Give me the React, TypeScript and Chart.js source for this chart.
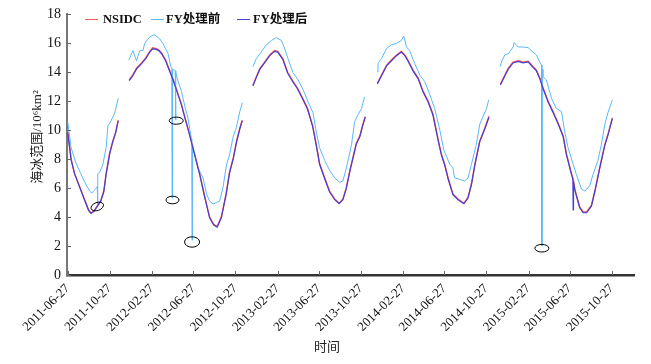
import React, { useEffect, useRef } from "react";
import { Chart, registerables } from "chart.js";
Chart.register(...registerables);

// ---------- data ----------
const START_DATE = "2011-06-27";
const tickDates = [
  "2011-06-27", "2011-10-27", "2012-02-27", "2012-06-27", "2012-10-27",
  "2013-02-27", "2013-06-27", "2013-10-27", "2014-02-27", "2014-06-27",
  "2014-10-27", "2015-02-27", "2015-06-27", "2015-10-27",
];
const yTickValues = [0, 2, 4, 6, 8, 10, 12, 14, 16, 18];

const seriesLabels = ["NSIDC", "FY处理前", "FY处理后"];

// day offsets from START_DATE (null value = data gap)
const darkDays = [
  0, 10, 20, 35, 49, 61, 68, 76, 84, 96, 105, 112, 122, 131, 140, 147,
  163,
  179, 189, 201, 215, 227, 239, 247, 256, 265, 274, 285, 297, 307, 317, 331, 341, 355, 370, 384, 399,
  413, 425, 435, 447, 461, 471, 482, 492, 501, 508,
  523,
  539, 549, 559, 573, 588, 602, 611, 626, 640, 655, 669, 684, 698, 713, 725, 733, 748, 762, 777, 790,
  801, 811, 821, 830, 840, 850, 859, 866,
  883,
  901, 913, 928, 942, 957, 971, 981, 990, 1005, 1020, 1034, 1049, 1063, 1078, 1088, 1097, 1107, 1121,
  1136, 1153, 1165, 1175, 1185, 1199, 1214, 1226,
  1242,
  1259, 1272, 1282, 1296, 1311, 1325, 1340, 1354, 1364, 1374, 1383, 1398, 1412, 1427, 1442, 1451,
  1466, 1470, 1471, 1472, 1476, 1490, 1500, 1510, 1524, 1534, 1548, 1563, 1572, 1585,
];
const nsidcValues = [
  9.9, 8.0, 7.0, 6.1, 5.2, 4.5, 4.28, 4.4, 4.7, 5.1, 5.8, 7.0, 8.4, 9.2, 9.9, 10.7,
  null,
  13.47, 13.8, 14.3, 14.65, 15.0, 15.45, 15.7, 15.65, 15.55, 15.3, 14.85, 14.1, 13.5, 12.8, 11.8, 10.9, 9.7, 8.3, 7.0, 5.4,
  4.0, 3.5, 3.35, 4.0, 5.6, 7.1, 8.1, 9.3, 10.15, 10.7,
  null,
  13.1, 13.7, 14.25, 14.7, 15.2, 15.5, 15.45, 14.95, 14.0, 13.4, 12.9, 12.2, 11.5, 10.3, 8.8, 7.7, 6.7, 5.8, 5.25, 4.95,
  5.25, 6.05, 7.2, 8.1, 9.1, 9.6, 10.4, 10.95,
  null,
  13.24, 13.8, 14.5, 14.85, 15.2, 15.45, 15.2, 14.85, 14.15, 13.6, 12.7, 12.0, 11.1, 9.35, 8.3, 7.65, 6.7, 5.6,
  5.25, 4.95, 5.37, 6.3, 7.65, 9.25, 10.16, 10.96,
  null,
  13.17, 13.8, 14.27, 14.7, 14.8, 14.7, 14.77, 14.4, 14.15, 13.6, 12.95, 12.0, 11.3, 10.5, 9.6, 8.4,
  7.0, 6.7, 6.6, 6.5, 5.9, 4.7, 4.35, 4.35, 4.8, 5.8, 7.4, 9.0, 9.7, 10.85,
];
const fyAfterValues = [
  9.85, 7.95, 7.0, 6.05, 5.2, 4.45, 4.25, 4.4, 4.65, 5.1, 5.75, 7.0, 8.35, 9.2, 9.85, 10.65,
  null,
  13.42, 13.75, 14.25, 14.6, 14.95, 15.4, 15.62, 15.6, 15.5, 15.25, 14.8, 14.05, 13.45, 12.75, 11.75, 10.85, 9.65, 8.25, 6.95, 5.35,
  3.95, 3.45, 3.3, 3.95, 5.55, 7.05, 8.05, 9.25, 10.1, 10.65,
  null,
  13.05, 13.65, 14.2, 14.65, 15.15, 15.45, 15.4, 14.9, 13.95, 13.35, 12.85, 12.15, 11.45, 10.25, 8.75, 7.65, 6.65, 5.75, 5.2, 4.92,
  5.2, 6.0, 7.15, 8.05, 9.05, 9.55, 10.35, 10.9,
  null,
  13.2, 13.75, 14.45, 14.8, 15.15, 15.4, 15.15, 14.8, 14.1, 13.55, 12.65, 11.95, 11.05, 9.3, 8.25, 7.6, 6.65, 5.55,
  5.2, 4.92, 5.32, 6.25, 7.6, 9.2, 10.1, 10.9,
  null,
  13.12, 13.75, 14.22, 14.65, 14.75, 14.65, 14.72, 14.35, 14.1, 13.55, 12.9, 11.95, 11.25, 10.45, 9.55, 8.35,
  6.95, 6.65, 4.5, 6.45, 5.85, 4.65, 4.3, 4.3, 4.75, 5.75, 7.35, 8.95, 9.65, 10.8,
];

const fyBeforeDays = [
  0, 10, 23, 38, 52, 64, 70, 79, 86, 87, 88, 93, 102, 112, 117, 125, 137, 147,
  163,
  178, 190, 200, 210, 219, 224, 239, 248, 253, 263, 268, 277, 282, 292, 300, 303, 304, 305, 312, 313,
  314, 315, 321, 331, 341, 350, 360, 361, 362, 363, 365, 379, 394, 404, 413, 423, 433, 442, 452, 462,
  471, 481, 491, 501, 508,
  523,
  539, 549, 563, 578, 593, 607, 622, 632, 641, 655, 670, 685, 699, 714, 724, 733, 748, 763, 777, 792,
  801, 811, 826, 835, 845, 855, 864,
  883,
  901, 903, 913, 928, 942, 957, 971, 978, 986, 995, 1010, 1025, 1039, 1054, 1068, 1083, 1095, 1112, 1121, 1126,
  1141, 1155, 1165, 1175, 1189, 1199, 1209, 1219, 1225,
  1242,
  1259, 1262, 1272, 1283, 1296, 1299, 1311, 1325, 1340, 1354, 1364, 1374, 1379, 1380, 1381, 1383, 1393, 1408, 1422, 1437,
  1446, 1456, 1471, 1480, 1495, 1505, 1519, 1529, 1543, 1553, 1563, 1572, 1585,
];
const fyBeforeValues = [
  10.6, 8.8, 7.8, 7.0, 6.3, 5.8, 5.65, 5.9, 6.1, 4.9, 7.0, 7.1, 7.6, 8.8, 10.3, 10.6, 11.2, 12.2,
  null,
  14.84, 15.5, 14.8, 15.5, 15.5, 16.0, 16.45, 16.55, 16.6, 16.4, 16.3, 16.0, 15.75, 15.3, 14.4, 14.3, 5.3, 14.2, 14.15, 14.1,
  10.7, 14.0, 13.4, 12.7, 11.64, 10.85, 9.4, 9.2, 2.4, 9.0, 8.8, 7.4, 6.7, 5.6, 5.1, 4.9, 5.0, 5.1, 6.05, 7.6,
  8.3, 9.5, 10.2, 11.3, 11.9,
  null,
  14.4, 14.95, 15.4, 15.9, 16.2, 16.4, 16.2, 15.6, 14.95, 14.0, 13.5, 12.8, 12.0, 11.2, 9.8, 8.8, 7.9, 7.2, 6.7, 6.4,
  6.5, 7.4, 9.0, 10.6, 11.07, 11.5, 12.3,
  null,
  14.04, 14.6, 14.95, 15.64, 15.9, 16.0, 16.2, 16.5, 15.75, 15.5, 14.6, 13.8, 13.36, 12.44, 11.5, 10.0, 8.6, 7.65, 7.4, 6.7,
  6.6, 6.5, 6.7, 7.65, 9.0, 10.4, 10.96, 11.5, 12.1,
  null,
  14.4, 14.7, 15.2, 15.3, 15.75, 16.05, 15.75, 15.75, 15.7, 15.4, 15.2, 14.7, 14.5, 2.0, 14.2, 13.7, 13.47, 12.2, 11.5, 11.3,
  9.93, 8.8, 7.65, 6.96, 5.94, 5.8, 6.16, 6.96, 7.9, 9.0, 10.4, 11.2, 12.1,
];

// marked outliers (black ellipses)
const markDays = [86, 305, 316, 362, 1380];
const markValues = [4.73, 5.18, 10.66, 2.28, 1.85];

// ---------- styles ----------
const SERIF = "'Liberation Serif', 'Times New Roman', 'Noto Sans CJK SC', serif";
const COLORS = ["#ff5a5a", "#5cb8f8", "rgba(62,58,205,0.95)"];
const MARK_STYLE: [number, number, number][] = [
  [6.5, 4, -0.35], [6.5, 3.8, 0], [7, 3.6, 0], [7.5, 5.2, 0], [7, 3.8, 0],
];
const LEGEND_LINE_X = [85, 151, 237];
const LEGEND_TEXT_X = [103, 166, 253];
const LEGEND_Y = 19;

const dayOf = (d: string) => (Date.parse(d) - Date.parse(START_DATE)) / 86400000;
const tickDays = tickDates.map(dayOf);

const decorPlugin = {
  id: "decor",
  afterDatasetsDraw(chart: any) {
    const { ctx, scales, chartArea } = chart;
    const x = scales.x;
    const y = scales.y;
    ctx.save();
    // ellipses
    ctx.strokeStyle = "#000";
    ctx.lineWidth = 1;
    markDays.forEach((d, i) => {
      const [rx, ry, rot] = MARK_STYLE[i];
      ctx.beginPath();
      ctx.ellipse(x.getPixelForValue(d), y.getPixelForValue(markValues[i]), rx, ry, rot, 0, Math.PI * 2);
      ctx.stroke();
    });
    // inward tick marks
    ctx.strokeStyle = "#666";
    ctx.lineWidth = 1;
    tickDays.forEach((d) => {
      const px = Math.round(x.getPixelForValue(d)) + 0.5;
      ctx.beginPath();
      ctx.moveTo(px, chartArea.bottom);
      ctx.lineTo(px, chartArea.bottom - 4);
      ctx.stroke();
    });
    yTickValues.forEach((v) => {
      const py = Math.round(y.getPixelForValue(v)) + 0.5;
      ctx.beginPath();
      ctx.moveTo(chartArea.left, py);
      ctx.lineTo(chartArea.left + 4, py);
      ctx.stroke();
    });
    // legend
    ctx.font = `bold 12.5px ${SERIF}`;
    ctx.textBaseline = "middle";
    ctx.textAlign = "left";
    seriesLabels.forEach((lab, i) => {
      ctx.strokeStyle = COLORS[i];
      ctx.lineWidth = 1;
      ctx.beginPath();
      ctx.moveTo(LEGEND_LINE_X[i], LEGEND_Y + 0.5);
      ctx.lineTo(LEGEND_LINE_X[i] + 13, LEGEND_Y + 0.5);
      ctx.stroke();
      ctx.fillStyle = "#111";
      ctx.fillText(lab, LEGEND_TEXT_X[i], LEGEND_Y + 1);
    });
    // axis titles
    ctx.fillStyle = "#222";
    ctx.font = `13px ${SERIF}`;
    ctx.textAlign = "center";
    ctx.fillText("时间", 327, 348);
    ctx.save();
    ctx.translate(38, 137);
    ctx.rotate(-Math.PI / 2);
    ctx.fillText("海冰范围/10⁶km²", 0, 0);
    ctx.restore();
    ctx.restore();
  },
};

export default function App() {
  const canvasRef = useRef<HTMLCanvasElement | null>(null);

  useEffect(() => {
    if (!canvasRef.current) return;
    const mk = (days: number[], vals: (number | null)[]) => days.map((d, i) => ({ x: d, y: vals[i] }));
    const chart = new Chart(canvasRef.current, {
      type: "line",
      data: {
        datasets: [
          { label: seriesLabels[0], data: mk(darkDays, nsidcValues), borderColor: COLORS[0], borderWidth: 1.4, order: 2 },
          { label: seriesLabels[1], data: mk(fyBeforeDays, fyBeforeValues), borderColor: COLORS[1], borderWidth: 1, order: 1 },
          { label: seriesLabels[2], data: mk(darkDays, fyAfterValues), borderColor: COLORS[2], borderWidth: 1.2, order: 0 },
        ] as any,
      },
      plugins: [decorPlugin],
      options: {
        animation: false,
        responsive: false,
        devicePixelRatio: 1,
        spanGaps: false,
        elements: { point: { radius: 0 }, line: { tension: 0 } },
        layout: { padding: { top: 12, right: 17, left: 0, bottom: 0 } },
        plugins: { legend: { display: false }, tooltip: { enabled: false }, title: { display: false } },
        scales: {
          x: {
            type: "linear",
            min: -2,
            max: 1648,
            afterBuildTicks: (s: any) => {
              s.ticks = tickDays.map((v) => ({ value: v }));
            },
            afterFit: (s: any) => {
              s.height = 89;
            },
            grid: { drawOnChartArea: false, drawTicks: false },
            border: { display: true, color: "#333", width: 2.5 },
            ticks: {
              autoSkip: false,
              minRotation: 45,
              maxRotation: 45,
              padding: 6,
              color: "#111",
              font: { family: SERIF, size: 13 },
              callback: (_v: any, i: number) => tickDates[i],
            },
          },
          y: {
            min: 0,
            max: 18,
            afterFit: (s: any) => {
              s.width = 67;
            },
            afterBuildTicks: (s: any) => {
              s.ticks = yTickValues.map((v) => ({ value: v }));
            },
            grid: { drawOnChartArea: false, drawTicks: false },
            border: { display: true, color: "#777", width: 2 },
            ticks: {
              padding: 6,
              color: "#111",
              font: { family: SERIF, size: 14 },
            },
          },
        },
      } as any,
    });
    return () => chart.destroy();
  }, []);

  return (
    <div style={{ position: "fixed", left: 0, top: 0, width: 651, height: 364, background: "#fff" }}>
      <canvas ref={canvasRef} width={651} height={364} style={{ width: 651, height: 364, display: "block" }} />
    </div>
  );
}
